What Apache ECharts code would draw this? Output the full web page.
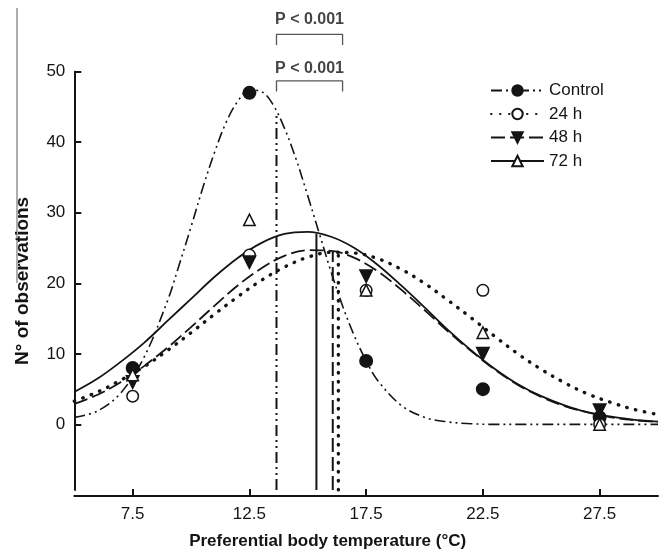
<!DOCTYPE html>
<html><head><meta charset="utf-8">
<script src="https://cdn.jsdelivr.net/npm/echarts@6/dist/echarts.min.js"></script>
<style>html,body{margin:0;padding:0;background:#fff}#c{width:663px;height:555px}</style>
</head><body><div id="c"></div><script>
// ---- data ----
const categories = [7.5, 12.5, 17.5, 22.5, 27.5];
const xTicks = [7.5, 12.5, 17.5, 22.5, 27.5];
const yTicks = [0, 10, 20, 30, 40, 50];
const seriesNames = ['Control', '24 h', '48 h', '72 h'];
const obsControl = [8, 47, 9, 5, 1];
const obs24 = [4, 24, 19, 19, 0];
const obs48 = [6, 23, 21, 10, 2];
const obs72 = [7, 29, 19, 13, 0];
// fitted curves
const fitX = [5,6,7,8,9,10,11,12,13,14,15,16,17,18,19,20,21,22,23,24,25,26,27,28,29,30];
const fit24 = [3.3,4.6,6.3,8.2,10.5,13.0,15.6,18.1,20.4,22.3,23.7,24.4,24.3,23.5,22.0,20.0,17.6,15.1,12.5,10.0,7.8,5.9,4.3,3.1,2.1,1.4];
const fit48 = [2.9,4.2,6.0,8.3,10.9,13.8,16.8,19.7,22.1,23.9,24.7,24.6,23.6,21.7,19.1,16.2,13.2,10.4,7.8,5.6,3.9,2.6,1.7,1.0,0.6,0.35];
const fit72 = [4.6,6.5,8.9,11.6,14.7,17.8,20.9,23.6,25.7,27.0,27.3,26.6,25.0,22.6,19.7,16.6,13.4,10.5,7.9,5.7,4.0,2.7,1.7,1.1,0.65,0.4];
const fitControlX = [5,6,7,8,9,9.5,10,10.5,11,11.5,12,12.5,13,13.5,14,14.5,15,15.5,16,16.5,17,17.5,18,19,20,21,22,23,24,25,26,27,28,29,30];
const fitControl = [1.0,1.9,4.5,9.6,17.6,22.7,28.0,33.5,38.5,42.8,45.8,47.4,47.2,45.4,42.0,37.6,32.4,27.0,21.6,16.7,12.5,9.0,6.2,2.7,1.0,0.35,0.1,0,0,0,0,0,0,0,0];
// mean (vertical) lines: Control, 24 h, 48 h, 72 h
const meanX = [13.66, 16.31, 16.07, 15.37];
const meanTop = [44, 24.2, 24.5, 27.0];
const axisBottom = -9.3;
// significance brackets
const bracketX = [13.66, 16.49];
const bracketTop = [55.3, 48.7];
const bracketLeg = [53.8, 47.2];
const pLabelY = [57.4, 50.4];
const pLabels = ['P < 0.001', 'P < 0.001'];

const FONT = 'Liberation Sans, Arial, sans-serif';
const INK = '#141414';
const styles = [
  {symbol:'circle', size:12.5, fill:INK, rotate:0, line:{type:[11,4,2,4,2,4], width:1.6}},
  {symbol:'circle', size:11.5, fill:'#fff', rotate:0, line:{type:[0.5,8.5], width:3.4, cap:'round'}},
  {symbol:'triangle', size:12.5, fill:INK, rotate:180, line:{type:[14,5], width:1.8}},
  {symbol:'triangle', size:11.5, fill:'#fff', rotate:0, line:{type:'solid', width:1.8}}
];
const obs = [obsControl, obs24, obs48, obs72];
const fits = [fitControl, fit24, fit48, fit72];
const fitXs = [fitControlX, fitX, fitX, fitX];

const series = [];
for (let i = 0; i < 4; i++) {
  const st = styles[i];
  const lineStyle = Object.assign({color: INK}, st.line);
  series.push({
    name: seriesNames[i], type: 'line', smooth: 0.35, showSymbol: false,
    symbol: st.symbol, symbolSize: st.size, symbolRotate: st.rotate,
    itemStyle: {color: st.fill, borderColor: INK, borderWidth: 1.5},
    lineStyle: lineStyle, silent: true, emphasis: {disabled: true}, z: 2,
    data: fitXs[i].map((x, k) => [x, fits[i][k]])
  });
  series.push({
    name: seriesNames[i] + ' mean', type: 'line', showSymbol: false, symbol: 'none',
    lineStyle: Object.assign({}, lineStyle, {width: Math.max(lineStyle.width, 2)}), silent: true, z: 2,
    data: [[meanX[i], axisBottom], [meanX[i], meanTop[i]]]
  });
}
for (let i = 0; i < 4; i++) {
  const st = styles[i];
  series.push({
    name: seriesNames[i] + ' obs', type: 'scatter', symbol: st.symbol,
    symbolSize: st.size, symbolRotate: st.rotate, silent: true, z: 5 + i,
    itemStyle: {color: st.fill, borderColor: INK, borderWidth: 1.5, opacity: 1},
    data: categories.map((x, k) => [x, obs[i][k]])
  });
}
for (let b = 0; b < 2; b++) {
  series.push({
    name: 'bracket' + b, type: 'line', symbol: 'none', clip: false, silent: true,
    lineStyle: {color: '#555', width: 1.3},
    data: [[bracketX[0], bracketLeg[b]], [bracketX[0], bracketTop[b]], [bracketX[1], bracketTop[b]], [bracketX[1], bracketLeg[b]]]
  });
  series.push({
    name: 'plabel' + b, type: 'scatter', symbolSize: 1, clip: false, silent: true,
    itemStyle: {color: 'rgba(0,0,0,0)'},
    label: {show: true, position: 'inside', formatter: pLabels[b], color: INK,
      fontFamily: FONT, fontWeight: 'bold', fontSize: 16},
    data: [[(bracketX[0] + bracketX[1]) / 2, pLabelY[b]]]
  });
}

const chart = echarts.init(document.getElementById('c'), null, {renderer: 'canvas'});
chart.setOption({
  animation: false,
  backgroundColor: '#fff',
  grid: {left: 74.3, right: 5, top: 71.7, bottom: 63.3},
  graphic: [{type: 'line', shape: {x1: 17, y1: 8, x2: 17, y2: 283}, style: {stroke: '#777', lineWidth: 1.2}, silent: true}],
  legend: {
    data: seriesNames, orient: 'vertical', left: 485, top: 77,
    itemWidth: 53, itemHeight: 13, itemGap: 6.5,
    textStyle: {fontFamily: FONT, fontSize: 17, color: INK}
  },
  xAxis: {
    type: 'value', min: 5, max: 30, offset: 6,
    axisLine: {show: true, onZero: false, lineStyle: {color: INK, width: 2}},
    axisTick: {show: true, inside: true, length: 7, lineStyle: {width: 2, color: INK}, customValues: xTicks},
    axisLabel: {customValues: xTicks, fontFamily: FONT, fontSize: 17, color: INK, margin: 10,
      formatter: v => v.toFixed(1)},
    splitLine: {show: false},
    name: 'Preferential body temperature (°C)', nameLocation: 'middle', nameGap: 37,
    nameTextStyle: {fontFamily: FONT, fontSize: 17, fontWeight: 'bold', color: INK, padding: [0, 77, 0, 0]}
  },
  yAxis: {
    type: 'value', min: axisBottom, max: 50,
    axisLine: {show: true, onZero: false, lineStyle: {color: INK, width: 2}},
    axisTick: {show: true, inside: true, length: 7, lineStyle: {width: 2, color: INK}, customValues: yTicks},
    axisLabel: {customValues: yTicks, fontFamily: FONT, fontSize: 17, color: INK, margin: 9},
    splitLine: {show: false},
    name: 'N° of observations', nameLocation: 'middle', nameGap: 42,
    nameTextStyle: {fontFamily: FONT, fontSize: 19, fontWeight: 'bold', color: INK}
  },
  series: series
});
</script></body></html>
